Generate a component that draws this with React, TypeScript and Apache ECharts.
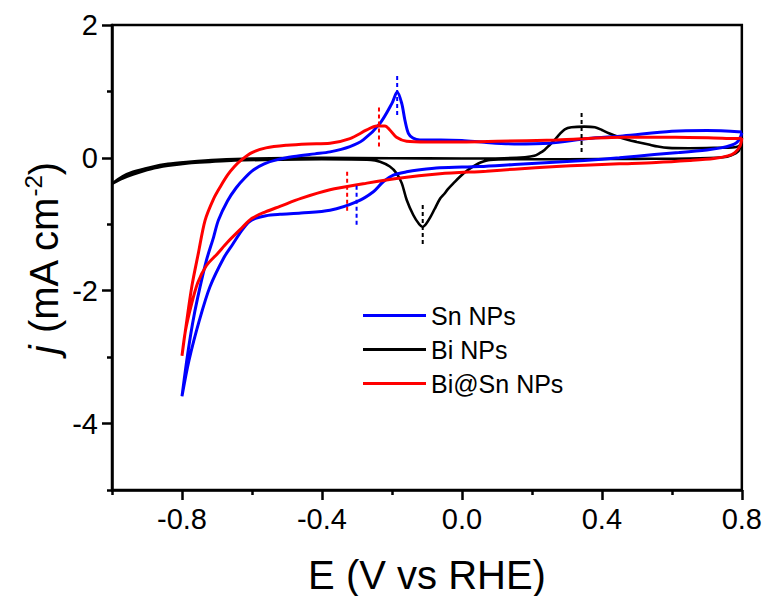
import React, { useEffect, useRef } from "react";
import * as echarts from "echarts";

// ---- axis ticks ----
const xMajorTicks = [-0.8, -0.4, 0, 0.4, 0.8];
const xTickLabels = ["-0.8", "-0.4", "0.0", "0.4", "0.8"];
const xMinorTicks = [-1.0, -0.6, -0.2, 0.2, 0.6];
const yMajorTicks = [2, 0, -2, -4];
const yTickLabels = ["2", "0", "-2", "-4"];
const yMinorTicks = [1, -1, -3, -5];

const seriesNames = ["Sn NPs", "Bi NPs", "Bi@Sn NPs"];

// ---- CV loops [E, j] ----
const snNPs: number[][] = [
  [0.80, 0.38], [0.795, 0.30], [0.785, 0.23], [0.77, 0.19], [0.74, 0.15], [0.70, 0.12],
  [0.62, 0.08], [0.55, 0.05], [0.45, 0.00], [0.35, -0.04], [0.25, -0.07], [0.15, -0.10],
  [0.05, -0.13], [-0.063, -0.15], [-0.12, -0.18], [-0.158, -0.21], [-0.196, -0.26],
  [-0.225, -0.36], [-0.253, -0.51], [-0.30, -0.66], [-0.377, -0.79], [-0.46, -0.83],
  [-0.52, -0.85], [-0.56, -0.87], [-0.59, -0.91], [-0.61, -0.97], [-0.63, -1.10],
  [-0.655, -1.30], [-0.68, -1.50], [-0.72, -1.94], [-0.75, -2.44], [-0.78, -3.05],
  [-0.80, -3.59],
  [-0.785, -3.0], [-0.77, -2.5], [-0.755, -2.1], [-0.73, -1.54], [-0.71, -1.2],
  [-0.696, -0.94], [-0.67, -0.65], [-0.645, -0.45], [-0.62, -0.30], [-0.595, -0.18],
  [-0.565, -0.09], [-0.53, -0.03], [-0.48, 0.02], [-0.42, 0.06], [-0.377, 0.09],
  [-0.32, 0.17], [-0.282, 0.27], [-0.234, 0.52], [-0.20, 0.82], [-0.185, 0.99],
  [-0.172, 0.82], [-0.163, 0.57], [-0.153, 0.37], [-0.14, 0.30], [-0.12, 0.27],
  [-0.06, 0.27], [0.0, 0.26], [0.07, 0.23], [0.15, 0.21], [0.25, 0.22], [0.36, 0.29],
  [0.46, 0.33], [0.60, 0.40], [0.70, 0.41], [0.80, 0.39],
];

const biNPs: number[][] = [
  [0.80, 0.24], [0.79, 0.10], [0.77, 0.04], [0.746, 0.01], [0.65, -0.01], [0.50, -0.015],
  [0.30, -0.02], [0.15, -0.02], [0.08, -0.03], [0.053, -0.07], [0.035, -0.12],
  [0.015, -0.19], [-0.005, -0.28], [-0.022, -0.37], [-0.04, -0.47], [-0.05, -0.54],
  [-0.063, -0.62], [-0.078, -0.77], [-0.091, -0.90], [-0.103, -1.00], [-0.112, -1.04],
  [-0.122, -1.00], [-0.139, -0.86], [-0.158, -0.63], [-0.172, -0.38], [-0.187, -0.23],
  [-0.206, -0.13], [-0.234, -0.06], [-0.26, -0.03], [-0.40, -0.02], [-0.55, -0.03],
  [-0.65, -0.04], [-0.72, -0.06], [-0.78, -0.08], [-0.84, -0.12], [-0.89, -0.17],
  [-0.94, -0.25], [-0.97, -0.31], [-1.0, -0.39],
  [-0.97, -0.28], [-0.94, -0.21], [-0.89, -0.14], [-0.84, -0.09], [-0.78, -0.06],
  [-0.70, -0.03], [-0.60, -0.01], [-0.40, 0.0], [-0.20, -0.005], [0.0, -0.01],
  [0.12, -0.005], [0.18, 0.01], [0.207, 0.03], [0.222, 0.07], [0.236, 0.12], [0.25, 0.19],
  [0.265, 0.27], [0.28, 0.36], [0.294, 0.43], [0.313, 0.46], [0.35, 0.47], [0.38, 0.46],
  [0.40, 0.42], [0.42, 0.37], [0.45, 0.31], [0.476, 0.27], [0.50, 0.24], [0.534, 0.20],
  [0.56, 0.17], [0.59, 0.15], [0.65, 0.145], [0.72, 0.15], [0.78, 0.16], [0.795, 0.19],
  [0.80, 0.24],
];

const biSnNPs: number[][] = [
  [0.80, 0.30], [0.795, 0.18], [0.78, 0.08], [0.76, 0.03], [0.72, -0.01], [0.65, -0.04],
  [0.555, -0.07], [0.45, -0.09], [0.35, -0.11], [0.27, -0.13], [0.15, -0.17], [0.07, -0.20],
  [-0.063, -0.24], [-0.187, -0.31], [-0.282, -0.39], [-0.377, -0.48], [-0.46, -0.61],
  [-0.52, -0.73], [-0.56, -0.81], [-0.60, -0.91], [-0.63, -1.06], [-0.67, -1.27],
  [-0.70, -1.45], [-0.73, -1.62], [-0.755, -1.88], [-0.775, -2.25], [-0.79, -2.6],
  [-0.80, -2.98],
  [-0.79, -2.59], [-0.772, -1.94], [-0.753, -1.43], [-0.734, -0.94], [-0.71, -0.62],
  [-0.69, -0.43], [-0.67, -0.26], [-0.65, -0.13], [-0.63, -0.03], [-0.60, 0.08],
  [-0.56, 0.15], [-0.50, 0.19], [-0.44, 0.21], [-0.377, 0.22], [-0.32, 0.29],
  [-0.272, 0.42], [-0.244, 0.48], [-0.22, 0.48], [-0.206, 0.42], [-0.187, 0.31],
  [-0.158, 0.25], [-0.10, 0.24], [0.0, 0.24], [0.10, 0.25], [0.27, 0.27], [0.46, 0.31],
  [0.61, 0.31], [0.72, 0.30], [0.78, 0.29], [0.80, 0.30],
];

// ---- dotted peak markers: [E, jFrom, jTo] ----
const snMarkers = [[-0.185, 0.645, 1.25], [-0.301, -0.42, -1.04]];
const biMarkers = [[-0.112, -0.71, -1.34], [0.342, 0.09, 0.72]];
const biSnMarkers = [[-0.237, 0.17, 0.80], [-0.328, -0.21, -0.835]];

const colors = { sn: "#0000ff", bi: "#000000", biSn: "#ff0000" };
const FONT = "'Liberation Sans', Arial, sans-serif";

function labelFor(v: number, ticks: number[], labels: string[]) {
  let best = 0;
  for (let i = 1; i < ticks.length; i++) {
    if (Math.abs(ticks[i] - v) < Math.abs(ticks[best] - v)) best = i;
  }
  return labels[best];
}

export default function App() {
  const ref = useRef<HTMLDivElement>(null);
  useEffect(() => {
    if (!ref.current) return;
    const chart = echarts.init(ref.current, null, { renderer: "svg" });

    const curve = (name: string, data: number[][], color: string, width: number) => ({
      name,
      type: "line",
      data,
      xAxisIndex: 0,
      yAxisIndex: 0,
      symbol: "none",
      showSymbol: false,
      smooth: 0.3,
      lineStyle: { color, width },
      itemStyle: { color },
      z: 3,
    });
    const markerSeries = (list: number[][], color: string) =>
      list.map((m) => ({
        type: "line",
        data: [[m[0], m[1]], [m[0], m[2]]],
        xAxisIndex: 0,
        yAxisIndex: 0,
        symbol: "none",
        showSymbol: false,
        lineStyle: { color, width: 2, type: [4, 3] },
        silent: true,
        z: 4,
      }));

    const axisLineStyle = { color: "#000", width: 2.5 };

    chart.setOption({
      animation: false,
      backgroundColor: "#fff",
      grid: {
        left: 112,
        right: 23,
        top: 25,
        bottom: 106,
        show: true,
        borderColor: "#000",
        borderWidth: 2.5,
        backgroundColor: "transparent",
      },
      legend: {
        data: seriesNames,
        orient: "vertical",
        left: 358,
        top: 298,
        icon: "rect",
        itemWidth: 63,
        itemHeight: 3,
        itemGap: 9,
        textStyle: { fontSize: 25, color: "#000", fontFamily: FONT, lineHeight: 25 },
      },
      xAxis: [
        {
          type: "value",
          min: -1.0,
          max: 0.8,
          position: "bottom",
          axisLine: { show: true, onZero: false, lineStyle: axisLineStyle },
          axisTick: { show: true, customValues: xMajorTicks, length: 10, lineStyle: axisLineStyle },
          axisLabel: {
            customValues: xMajorTicks,
            formatter: (v: number) => labelFor(v, xMajorTicks, xTickLabels),
            fontSize: 29,
            color: "#000",
            fontFamily: FONT,
            margin: 14,
          },
          splitLine: { show: false },
        },
        {
          type: "value",
          min: -1.0,
          max: 0.8,
          position: "bottom",
          axisLine: { show: false, onZero: false },
          axisTick: { show: true, customValues: xMinorTicks, length: 5, lineStyle: axisLineStyle },
          axisLabel: { show: false },
          splitLine: { show: false },
        },
      ],
      yAxis: [
        {
          type: "value",
          min: -5,
          max: 2,
          position: "left",
          axisLine: { show: true, onZero: false, lineStyle: axisLineStyle },
          axisTick: { show: true, customValues: yMajorTicks, length: 10, lineStyle: axisLineStyle },
          axisLabel: {
            customValues: yMajorTicks,
            formatter: (v: number) => labelFor(v, yMajorTicks, yTickLabels),
            fontSize: 29,
            color: "#000",
            fontFamily: FONT,
            margin: 14,
          },
          splitLine: { show: false },
        },
        {
          type: "value",
          min: -5,
          max: 2,
          position: "left",
          axisLine: { show: false, onZero: false },
          axisTick: { show: true, customValues: yMinorTicks, length: 5, lineStyle: axisLineStyle },
          axisLabel: { show: false },
          splitLine: { show: false },
        },
      ],
      graphic: [
        {
          type: "text",
          x: 427,
          y: 575,
          style: {
            text: "E (V vs RHE)",
            fontSize: 40,
            fontFamily: FONT,
            fill: "#000",
            align: "center",
            verticalAlign: "middle",
          },
        },
        {
          type: "text",
          x: 44,
          y: 258,
          rotation: Math.PI / 2,
          style: {
            text: "{i|j} (mA cm{sup|-2})",
            fontSize: 40,
            fontFamily: FONT,
            fill: "#000",
            align: "center",
            verticalAlign: "middle",
            rich: {
              i: { fontStyle: "italic", fontSize: 40, fontFamily: FONT, fill: "#000", lineHeight: 46 },
              sup: { fontSize: 24, fontFamily: FONT, fill: "#000", verticalAlign: "top", lineHeight: 24 },
            },
          },
        },
      ],
      series: [
        curve(seriesNames[1], biNPs, colors.bi, 2.6),
        curve(seriesNames[0], snNPs, colors.sn, 3),
        curve(seriesNames[2], biSnNPs, colors.biSn, 3),
        ...markerSeries(snMarkers, colors.sn),
        ...markerSeries(biMarkers, colors.bi),
        ...markerSeries(biSnMarkers, colors.biSn),
      ],
    });
    return () => chart.dispose();
  }, []);

  return (
    <div
      ref={ref}
      style={{ position: "fixed", left: 0, top: 0, width: 765, height: 596, background: "#fff" }}
    />
  );
}
